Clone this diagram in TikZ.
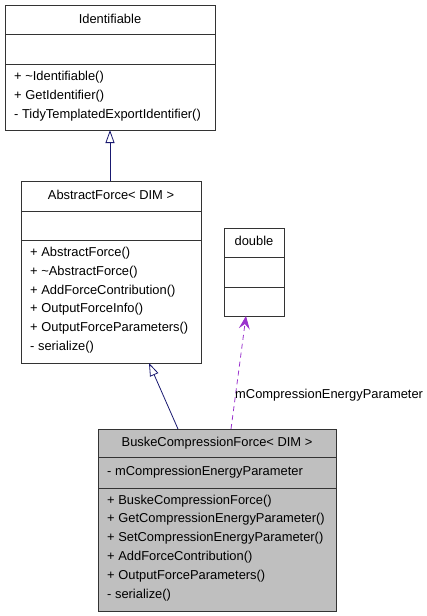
\documentclass[tikz,border=0pt]{standalone}
\usepackage{fontspec}
\setmainfont{Liberation Sans}
\usetikzlibrary{arrows.meta,calc}
\definecolor{edgeblue}{RGB}{25,25,112}
\definecolor{edgepurple}{RGB}{154,50,205}
\definecolor{boxgray}{RGB}{191,191,191}
\begin{document}
\begin{tikzpicture}[x=1pt,y=-1pt,
  classbox/.style={draw=black!80,line width=0.9pt,rectangle,inner sep=0pt,anchor=north west},
  sep/.style={draw=black!80,line width=0.9pt},
  txt/.style={inner sep=0pt,anchor=west,font=\fontsize{12.9}{15}\selectfont},
  ttl/.style={inner sep=0pt,anchor=center,font=\fontsize{12.9}{15}\selectfont},
  inherit/.style={draw=edgeblue,line width=0.8pt,-{Triangle[open,length=13pt,width=9pt]}},
  usage/.style={draw=edgepurple,line width=0.8pt,dash pattern=on 5pt off 4pt,-{Stealth[length=13pt,width=11pt,inset=5pt]}}
]
\useasboundingbox (0,0) rectangle (427,616);
% Identifiable
\node[classbox,minimum width=210pt,minimum height=125pt] (ident) at (5,5) {};
\draw[sep] (5,34) -- (215,34);
\draw[sep] (5,64) -- (215,64);
\node[ttl] (identT) at (110,19) {Identifiable};
\node[txt] (identM1) at (14,77) {+ \textasciitilde Identifiable()};
\node[txt] (identM2) at (14,96) {+ GetIdentifier()};
\node[txt] (identM3) at (14,115) {- TidyTemplatedExportIdentifier()};
% AbstractForce
\node[classbox,minimum width=180pt,minimum height=182pt] (abs) at (21,181) {};
\draw[sep] (21,211) -- (201,211);
\draw[sep] (21,240) -- (201,240);
\node[ttl] (absT) at (111,195) {AbstractForce< DIM >};
\node[txt] (absM1) at (30,253) {+ AbstractForce()};
\node[txt] (absM2) at (30,272) {+ \textasciitilde AbstractForce()};
\node[txt] (absM3) at (30,291) {+ AddForceContribution()};
\node[txt] (absM4) at (30,309) {+ OutputForceInfo()};
\node[txt] (absM5) at (30,328) {+ OutputForceParameters()};
\node[txt] (absM6) at (30,347) {- serialize()};
% double
\node[classbox,minimum width=60pt,minimum height=88pt] (dbl) at (224,228) {};
\draw[sep] (224,257) -- (284,257);
\draw[sep] (224,287) -- (284,287);
\node[ttl] (dblT) at (254,241) {double};
% Buske
\node[classbox,fill=boxgray,minimum width=238pt,minimum height=182pt] (buske) at (98,429) {};
\draw[sep] (98,457) -- (336,457);
\draw[sep] (98,488) -- (336,488);
\node[ttl] (buskeT) at (217,443) {BuskeCompressionForce< DIM >};
\node[txt] (buskeA1) at (107,472) {- mCompressionEnergyParameter};
\node[txt] (buskeM1) at (107,501) {+ BuskeCompressionForce()};
\node[txt] (buskeM2) at (107,519) {+ GetCompressionEnergyParameter()};
\node[txt] (buskeM3) at (107,538) {+ SetCompressionEnergyParameter()};
\node[txt] (buskeM4) at (107,557) {+ AddForceContribution()};
\node[txt] (buskeM5) at (107,576) {+ OutputForceParameters()};
\node[txt] (buskeM6) at (107,595) {- serialize()};
% connectors
\coordinate (absTop) at (110,181);
\coordinate (identBot) at (110,130);
\draw[inherit] (absTop) -- (identBot);
\coordinate (buskeIn) at (178,429);
\coordinate (absBot) at (149,363);
\draw[inherit] (buskeIn) -- (absBot);
\coordinate (buskeUse) at (231,429);
\coordinate (dblBot) at (246,316);
\draw[usage] (buskeUse) -- (dblBot);
\node[txt] (useLbl) at (235,395) {mCompressionEnergyParameter};
\end{tikzpicture}
\end{document}
